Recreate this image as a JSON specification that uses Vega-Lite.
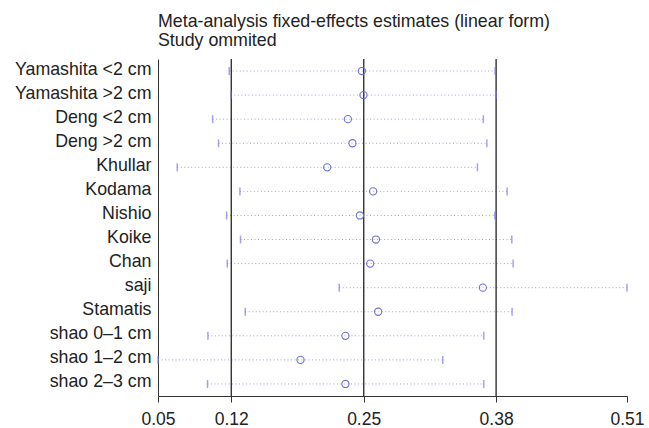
{
  "$schema": "https://vega.github.io/schema/vega-lite/v6.json",
  "width": 469,
  "height": 337,
  "autosize": {"type": "none"},
  "padding": {"left": 158, "top": 59, "right": 22, "bottom": 32},
  "background": "white",
  "config": {
    "view": {"stroke": null},
    "font": "Liberation Sans"
  },
  "title": {
    "text": ["Meta-analysis fixed-effects estimates (linear form)", "Study ommited"],
    "anchor": "start",
    "frame": "group",
    "font": "Liberation Sans",
    "fontSize": 17.8,
    "fontWeight": "normal",
    "color": "#222222",
    "lineHeight": 18.7,
    "baseline": "bottom",
    "offset": -9
  },
  "datasets": {
    "studies": [
      {"study": "Yamashita <2 cm", "lower": 0.1180, "est": 0.2482, "upper": 0.3790},
      {"study": "Yamashita >2 cm", "lower": 0.1197, "est": 0.2498, "upper": 0.3800},
      {"study": "Deng <2 cm", "lower": 0.1017, "est": 0.2345, "upper": 0.3675},
      {"study": "Deng >2 cm", "lower": 0.1075, "est": 0.2390, "upper": 0.3709},
      {"study": "Khullar", "lower": 0.0670, "est": 0.2142, "upper": 0.3617},
      {"study": "Kodama", "lower": 0.1285, "est": 0.2593, "upper": 0.3908},
      {"study": "Nishio", "lower": 0.1154, "est": 0.2463, "upper": 0.3787},
      {"study": "Koike", "lower": 0.1291, "est": 0.2620, "upper": 0.3954},
      {"study": "Chan", "lower": 0.1161, "est": 0.2564, "upper": 0.3967},
      {"study": "saji", "lower": 0.2260, "est": 0.3670, "upper": 0.5085},
      {"study": "Stamatis", "lower": 0.1337, "est": 0.2642, "upper": 0.3957},
      {"study": "shao 0–1 cm", "lower": 0.0971, "est": 0.2321, "upper": 0.3679},
      {"study": "shao 1–2 cm", "lower": 0.0481, "est": 0.1880, "upper": 0.3277},
      {"study": "shao 2–3 cm", "lower": 0.0967, "est": 0.2321, "upper": 0.3679}
    ],
    "refs": [{"v": 0.12}, {"v": 0.2501}, {"v": 0.38}]
  },
  "layer": [
    {
      "data": {"name": "studies"},
      "mark": {"type": "rule", "strokeDash": [1, 2.5], "strokeWidth": 1, "color": "#a0a0e0"},
      "encoding": {
        "x": {
          "field": "lower", "type": "quantitative",
          "scale": {"domain": [0.0481, 0.5085], "nice": false, "zero": false},
          "axis": {
            "values": [0.0481, 0.12, 0.25, 0.38, 0.5085],
            "format": ".2f",
            "title": null,
            "grid": false,
            "labelFlush": false,
            "labelOverlap": false,
            "tickSize": 6,
            "labelPadding": 8,
            "domainColor": "#333333",
            "tickColor": "#333333",
            "labelColor": "#222222",
            "labelFontSize": 17.5,
            "labelFont": "Liberation Sans"
          }
        },
        "x2": {"field": "upper"},
        "y": {
          "field": "study", "type": "nominal", "sort": null,
          "scale": {"type": "point", "padding": 0.5},
          "axis": {
            "title": null,
            "ticks": false,
            "grid": false,
            "domainColor": "#333333",
            "labelPadding": 7,
            "labelColor": "#222222",
            "labelFontSize": 17.8,
            "labelFont": "Liberation Sans",
            "labelOffset": -2
          }
        }
      }
    },
    {
      "data": {"name": "refs"},
      "mark": {"type": "rule", "color": "#111111", "strokeWidth": 1.2},
      "encoding": {
        "x": {"field": "v", "type": "quantitative"}
      }
    },
    {
      "data": {"name": "studies"},
      "mark": {"type": "tick", "color": "#7c7ce8", "size": 8, "thickness": 1.5, "orient": "vertical"},
      "encoding": {
        "x": {"field": "lower", "type": "quantitative"},
        "y": {"field": "study", "type": "nominal", "sort": null}
      }
    },
    {
      "data": {"name": "studies"},
      "mark": {"type": "tick", "color": "#7c7ce8", "size": 8, "thickness": 1.5, "orient": "vertical"},
      "encoding": {
        "x": {"field": "upper", "type": "quantitative"},
        "y": {"field": "study", "type": "nominal", "sort": null}
      }
    },
    {
      "data": {"name": "studies"},
      "mark": {"type": "point", "filled": false, "color": "#7070d6", "size": 52, "strokeWidth": 1.1, "opacity": 1},
      "encoding": {
        "x": {"field": "est", "type": "quantitative"},
        "y": {"field": "study", "type": "nominal", "sort": null}
      }
    }
  ]
}
